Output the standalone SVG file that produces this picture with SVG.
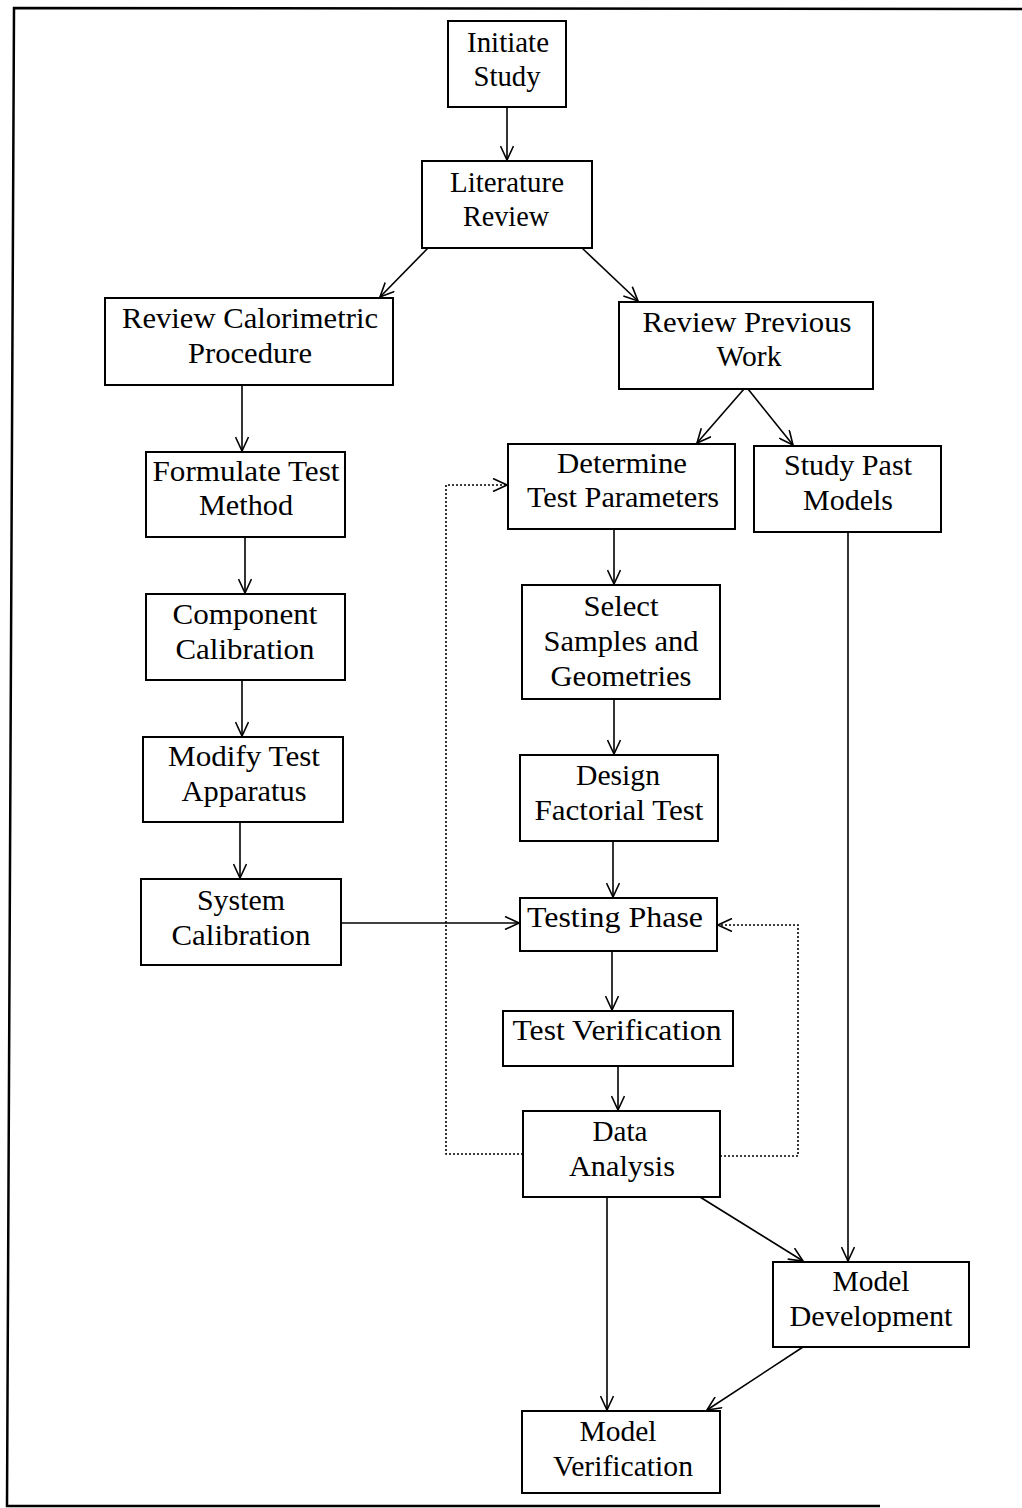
<svg xmlns="http://www.w3.org/2000/svg" width="1022" height="1508" viewBox="0 0 1022 1508">
<style>
.box{fill:#fff;stroke:#000;stroke-width:2}
.t{font-family:"Liberation Serif","Times New Roman",serif;font-size:29px;fill:#000;text-anchor:middle}
.c{fill:none;stroke:#000;stroke-width:1.6}
.d{fill:none;stroke:#000;stroke-width:1.6;stroke-dasharray:2,2}
</style>
<defs>
<marker id="ah" viewBox="0 0 16 14" refX="15" refY="7" markerWidth="16" markerHeight="14" markerUnits="userSpaceOnUse" orient="auto">
<path d="M1,0.5 L15,7 L1,13.5" fill="none" stroke="#000" stroke-width="1.6"/>
</marker>
</defs>
<path d="M1022,9 L14,8 L7,1506 L880,1506" fill="none" stroke="#000" stroke-width="2.5"/>
<g id="connectors">
<line class="c" x1="507" y1="107" x2="507" y2="160" marker-end="url(#ah)"/>
<line class="c" x1="428" y1="248" x2="380" y2="297" marker-end="url(#ah)"/>
<line class="c" x1="582" y1="248" x2="638" y2="301" marker-end="url(#ah)"/>
<line class="c" x1="242" y1="385" x2="242" y2="451" marker-end="url(#ah)"/>
<line class="c" x1="245" y1="537" x2="245" y2="593" marker-end="url(#ah)"/>
<line class="c" x1="242" y1="680" x2="242" y2="736" marker-end="url(#ah)"/>
<line class="c" x1="240" y1="822" x2="240" y2="878" marker-end="url(#ah)"/>
<line class="c" x1="744" y1="389" x2="697" y2="443" marker-end="url(#ah)"/>
<line class="c" x1="748" y1="389" x2="793" y2="445" marker-end="url(#ah)"/>
<line class="c" x1="614" y1="529" x2="614" y2="584" marker-end="url(#ah)"/>
<line class="c" x1="614" y1="699" x2="614" y2="754" marker-end="url(#ah)"/>
<line class="c" x1="613" y1="841" x2="613" y2="897" marker-end="url(#ah)"/>
<line class="c" x1="341" y1="923" x2="519" y2="923" marker-end="url(#ah)"/>
<line class="c" x1="612" y1="951" x2="612" y2="1010" marker-end="url(#ah)"/>
<line class="c" x1="618" y1="1066" x2="618" y2="1110" marker-end="url(#ah)"/>
<polyline class="d" points="523,1154 446,1154 446,485 507,485" marker-end="url(#ah)"/>
<polyline class="d" points="720,1156 798,1156 798,925 718,925" marker-end="url(#ah)"/>
<line class="c" x1="700" y1="1197" x2="803" y2="1261" marker-end="url(#ah)"/>
<line class="c" x1="848" y1="532" x2="848" y2="1261" marker-end="url(#ah)"/>
<line class="c" x1="607" y1="1197" x2="607" y2="1410" marker-end="url(#ah)"/>
<line class="c" x1="803" y1="1347" x2="707" y2="1410" marker-end="url(#ah)"/>
</g>
<g id="initiate-study"><rect class="box" x="448" y="21" width="118" height="86"/>
<text class="t" x="508" y="52" textLength="82" lengthAdjust="spacingAndGlyphs">Initiate</text>
<text class="t" x="507" y="86" textLength="67" lengthAdjust="spacingAndGlyphs">Study</text></g>
<g id="literature-review"><rect class="box" x="422" y="161" width="170" height="87"/>
<text class="t" x="507" y="192" textLength="114" lengthAdjust="spacingAndGlyphs">Literature</text>
<text class="t" x="506" y="226" textLength="86" lengthAdjust="spacingAndGlyphs">Review</text></g>
<g id="review-calorimetric"><rect class="box" x="105" y="298" width="288" height="87"/>
<text class="t" x="250" y="328" textLength="256" lengthAdjust="spacingAndGlyphs">Review Calorimetric</text>
<text class="t" x="250" y="363" textLength="124" lengthAdjust="spacingAndGlyphs">Procedure</text></g>
<g id="review-previous"><rect class="box" x="619" y="302" width="254" height="87"/>
<text class="t" x="747" y="332" textLength="209" lengthAdjust="spacingAndGlyphs">Review Previous</text>
<text class="t" x="749" y="366" textLength="65" lengthAdjust="spacingAndGlyphs">Work</text></g>
<g id="formulate-test"><rect class="box" x="146" y="452" width="199" height="85"/>
<text class="t" x="246" y="481" textLength="187" lengthAdjust="spacingAndGlyphs">Formulate Test</text>
<text class="t" x="246" y="515" textLength="94" lengthAdjust="spacingAndGlyphs">Method</text></g>
<g id="determine-params"><rect class="box" x="508" y="444" width="227" height="85"/>
<text class="t" x="622" y="473" textLength="130" lengthAdjust="spacingAndGlyphs">Determine</text>
<text class="t" x="623" y="507" textLength="192" lengthAdjust="spacingAndGlyphs">Test Parameters</text></g>
<g id="study-past"><rect class="box" x="754" y="446" width="187" height="86"/>
<text class="t" x="848" y="475" textLength="128" lengthAdjust="spacingAndGlyphs">Study Past</text>
<text class="t" x="848" y="510" textLength="90" lengthAdjust="spacingAndGlyphs">Models</text></g>
<g id="component-calibration"><rect class="box" x="146" y="594" width="199" height="86"/>
<text class="t" x="245" y="624" textLength="145" lengthAdjust="spacingAndGlyphs">Component</text>
<text class="t" x="245" y="659" textLength="139" lengthAdjust="spacingAndGlyphs">Calibration</text></g>
<g id="modify-apparatus"><rect class="box" x="143" y="737" width="200" height="85"/>
<text class="t" x="244" y="766" textLength="152" lengthAdjust="spacingAndGlyphs">Modify Test</text>
<text class="t" x="244" y="801" textLength="125" lengthAdjust="spacingAndGlyphs">Apparatus</text></g>
<g id="system-calibration"><rect class="box" x="141" y="879" width="200" height="86"/>
<text class="t" x="241" y="910" textLength="88" lengthAdjust="spacingAndGlyphs">System</text>
<text class="t" x="241" y="945" textLength="139" lengthAdjust="spacingAndGlyphs">Calibration</text></g>
<g id="select-samples"><rect class="box" x="522" y="585" width="198" height="114"/>
<text class="t" x="621" y="616" textLength="75" lengthAdjust="spacingAndGlyphs">Select</text>
<text class="t" x="621" y="651" textLength="155" lengthAdjust="spacingAndGlyphs">Samples and</text>
<text class="t" x="621" y="686" textLength="141" lengthAdjust="spacingAndGlyphs">Geometries</text></g>
<g id="design-factorial"><rect class="box" x="520" y="755" width="198" height="86"/>
<text class="t" x="618" y="785" textLength="84" lengthAdjust="spacingAndGlyphs">Design</text>
<text class="t" x="619" y="820" textLength="169" lengthAdjust="spacingAndGlyphs">Factorial Test</text></g>
<g id="testing-phase"><rect class="box" x="520" y="898" width="197" height="53"/>
<text class="t" x="615" y="927" textLength="176" lengthAdjust="spacingAndGlyphs">Testing Phase</text></g>
<g id="test-verification"><rect class="box" x="503" y="1011" width="230" height="55"/>
<text class="t" x="617" y="1040" textLength="209" lengthAdjust="spacingAndGlyphs">Test Verification</text></g>
<g id="data-analysis"><rect class="box" x="523" y="1111" width="197" height="86"/>
<text class="t" x="620" y="1141" textLength="55" lengthAdjust="spacingAndGlyphs">Data</text>
<text class="t" x="622" y="1176" textLength="106" lengthAdjust="spacingAndGlyphs">Analysis</text></g>
<g id="model-development"><rect class="box" x="773" y="1262" width="196" height="85"/>
<text class="t" x="871" y="1291" textLength="77" lengthAdjust="spacingAndGlyphs">Model</text>
<text class="t" x="871" y="1326" textLength="163" lengthAdjust="spacingAndGlyphs">Development</text></g>
<g id="model-verification"><rect class="box" x="522" y="1411" width="198" height="82"/>
<text class="t" x="618" y="1441" textLength="77" lengthAdjust="spacingAndGlyphs">Model</text>
<text class="t" x="623" y="1476" textLength="140" lengthAdjust="spacingAndGlyphs">Verification</text></g>
</svg>
